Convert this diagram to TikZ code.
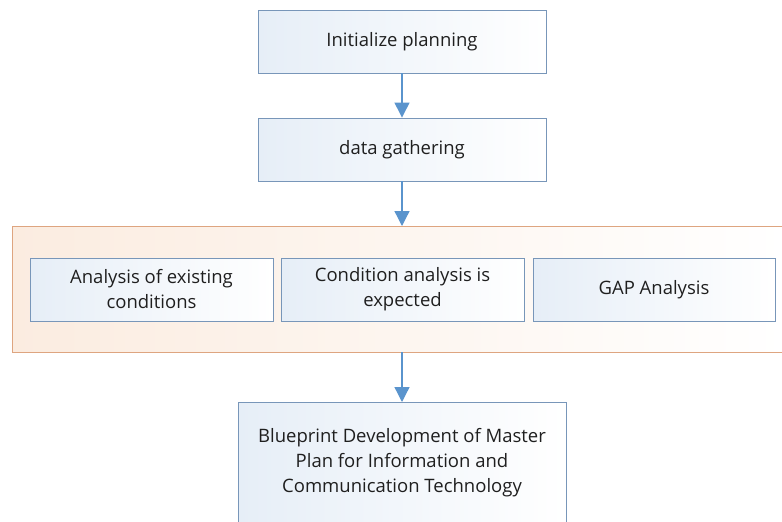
\documentclass[tikz,border=0pt]{standalone}
\usepackage{fontspec}
\setmainfont{Open Sans}
\usetikzlibrary{arrows.meta}
\definecolor{boxline}{RGB}{120,150,185}
\definecolor{boxfill}{RGB}{230,238,247}
\definecolor{arrowc}{RGB}{90,148,205}
\definecolor{contline}{RGB}{222,165,128}
\definecolor{contfill}{RGB}{251,236,224}
\tikzset{
  stepbox/.style={draw=boxline, line width=0.9pt, left color=boxfill, right color=white,
    text=black!88, font=\fontsize{18.5}{25}\selectfont, align=center, inner sep=0pt},
  flowarrow/.style={draw=arrowc, line width=1.3pt, -{Triangle[length=15pt,width=15pt]}},
}
\begin{document}
\begin{tikzpicture}[x=1pt,y=-1pt]
\useasboundingbox (0,0) rectangle (782,522);
\clip (0,0) rectangle (782,522);
\fill[white] (0,0) rectangle (782,522);
% container
\draw[draw=contline, line width=1pt, left color=contfill, right color=white]
  (12,226) rectangle (786,352);
\coordinate (ctop) at (402,226);
\coordinate (cbot) at (402,352);
% nodes
\node[stepbox, minimum width=288, minimum height=63] (init) at (402,41.5) {Initialize planning};
\node[stepbox, minimum width=288, minimum height=63] (data) at (402,149.5) {data gathering};
\node[stepbox, minimum width=243, minimum height=63] (exist) at (151.5,289.5) {Analysis of existing\\conditions};
\node[stepbox, minimum width=243, minimum height=63] (expect) at (402.5,289.5) {Condition analysis is\\expected};
\node[stepbox, minimum width=242, minimum height=63] (gap) at (654,289.5) {GAP Analysis};
\node[stepbox, minimum width=328, minimum height=150, anchor=north] (blue) at (402,402) {};
\node[font=\fontsize{18.5}{25}\selectfont, text=black!88, align=center] (bluetext) at (402,463)
  {Blueprint Development of Master\\Plan for Information and\\Communication Technology};
% arrows
\draw[flowarrow] (init.south) -- (data.north);
\draw[flowarrow] (data.south) -- (ctop);
\draw[flowarrow] (cbot) -- (blue.north);
\end{tikzpicture}
\end{document}
